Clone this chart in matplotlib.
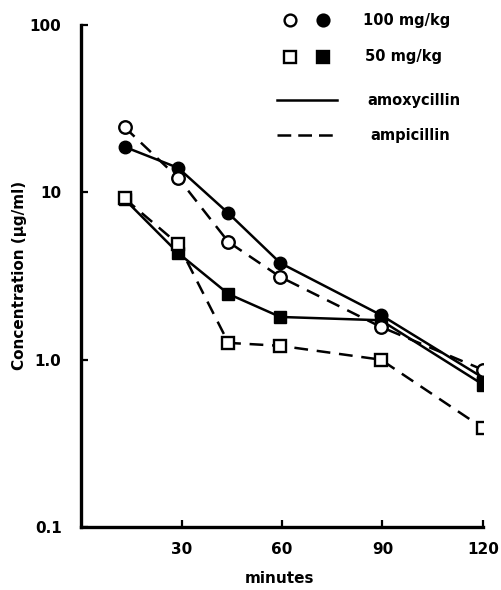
import matplotlib
matplotlib.use("Agg")
import matplotlib.pyplot as plt
from matplotlib.lines import Line2D

# sampling times (minutes)
minutes = [13, 29, 44, 59.5, 89.5, 120]

# serum concentration (ug/ml)
amox_100 = [18.7, 14.0, 7.5, 3.78, 1.85, 0.78]
amp_100 = [24.5, 12.2, 5.05, 3.12, 1.57, 0.87]
amox_50 = [9.1, 4.34, 2.47, 1.80, 1.72, 0.71]
amp_50 = [9.2, 4.91, 1.26, 1.21, 1.00, 0.39]

x_ticks = [30, 60, 90, 120]
y_ticks = [0.1, 1.0, 10, 100]
y_labels = ["0.1", "1.0", "10", "100"]

plt.rcParams['font.family'] = ['DejaVu Sans']
plt.rcParams['font.weight'] = 'bold'
plt.rcParams['axes.labelweight'] = 'bold'

fig = plt.figure(figsize=(5.01, 5.90), dpi=100)
ax = fig.add_axes([81 / 501, 63 / 590, 402 / 501, 502 / 590])

dash = (0, (5.5, 3.5))
lw = 1.8
ms = 9

# solid = amoxycillin (filled markers), dashed = ampicillin (open markers)
ax.plot(minutes, amox_50, '-', color='black', lw=lw, marker='s', ms=ms,
        mfc='black', mec='black', zorder=3)
ax.plot(minutes, amox_100, '-', color='black', lw=lw, marker='o', ms=ms,
        mfc='black', mec='black', zorder=3)
ax.plot(minutes, amp_50, linestyle=dash, color='black', lw=lw, marker='s', ms=ms,
        mfc='white', mec='black', mew=1.7, zorder=4)
ax.plot(minutes, amp_100, linestyle=dash, color='black', lw=lw, marker='o', ms=ms,
        mfc='white', mec='black', mew=1.7, zorder=4)

ax.set_yscale('log')
ax.set_ylim(0.1, 100)
ax.set_xlim(0, 120)
ax.set_yticks(y_ticks)
ax.set_yticklabels(y_labels)
ax.minorticks_off()
ax.set_xticks(x_ticks)
ax.set_xticklabels([str(t) for t in x_ticks])

for side in ['top', 'right']:
    ax.spines[side].set_visible(False)
for side in ['left', 'bottom']:
    ax.spines[side].set_linewidth(2.4)

ax.tick_params(direction='in', length=5, width=1.6, labelsize=11, pad=14)
ax.tick_params(axis='x', pad=11)

ax.set_xlabel('minutes', fontsize=11, va='center')
ax.set_ylabel('Concentration (µg/ml)', fontsize=11, va='center')
ax.xaxis.set_label_coords(0.495, -0.102)
ax.yaxis.set_label_coords(-0.152, 0.502)

# legend drawn by hand, in figure pixels
W, H = 501.0, 590.0

def px(x, y):
    return x / W, 1 - y / H

def sym(x, y, marker, filled):
    fx, fy = px(x, y)
    fig.add_artist(Line2D([fx], [fy], marker=marker, ms=ms - 0.5, mew=1.7,
                          mfc='black' if filled else 'white', mec='black',
                          linestyle='none', transform=fig.transFigure))

sym(290, 20, 'o', False)
sym(323, 20, 'o', True)
sym(290, 57, 's', False)
sym(323, 57, 's', True)

x0, y0 = px(277, 100)
x1, _ = px(337, 100)
fig.add_artist(Line2D([x0, x1], [y0, y0], color='black', lw=lw,
                      transform=fig.transFigure))
x0, y0 = px(277, 135)
fig.add_artist(Line2D([x0, x1], [y0, y0], color='black', lw=lw,
                      linestyle=(0, (5.5, 2.8)), transform=fig.transFigure))

for label, (tx, ty) in [('100 mg/kg', (363, 20)), ('50 mg/kg', (365, 57)),
                        ('amoxycillin', (367, 100)), ('ampicillin', (370, 135))]:
    fx, fy = px(tx, ty)
    fig.text(fx, fy, label, fontsize=10.5, va='center', ha='left')

fig.savefig('out.png', dpi=100)
